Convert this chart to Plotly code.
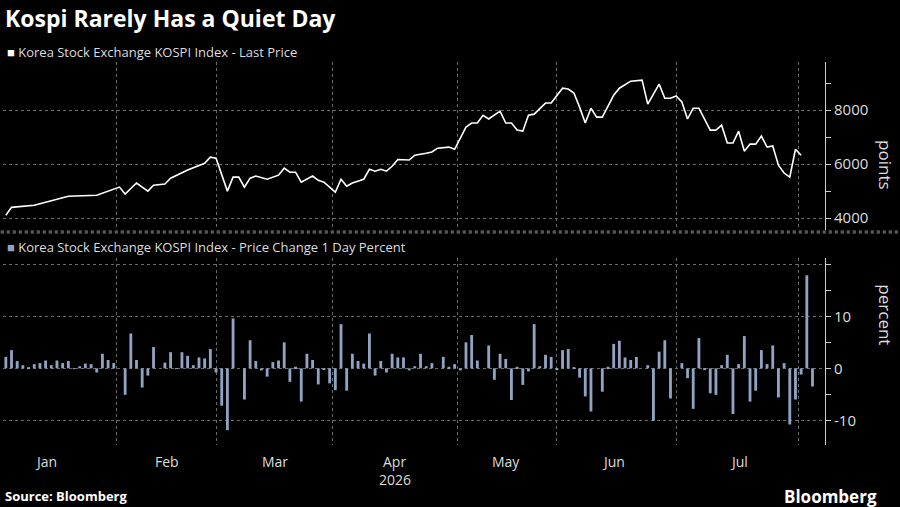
import plotly.graph_objects as go
from plotly.subplots import make_subplots

# trading-day index of price observations and the KOSPI level
price_day = [0, 1, 5, 7, 11, 16, 20, 21, 23, 25, 26, 28, 29, 32, 35, 36, 37, 39, 40, 41,
             42, 43, 44, 46, 48, 49, 50, 51, 52, 54, 55, 56, 58, 59, 60, 61, 63, 64, 65, 66,
             67, 68, 69, 71, 72, 74, 75, 76, 78, 79, 81, 82, 83, 84, 85, 87, 88, 89, 90, 91,
             92, 93, 95, 96, 98, 99, 100, 101, 102, 103, 104, 105, 107, 108, 110, 112, 113, 115, 116, 117,
             118, 119, 120, 121, 122, 124, 125, 126, 127, 128, 129, 130, 131, 132, 133, 134, 135, 136, 137, 138,
             139, 140]
price = [4110, 4400, 4480, 4590, 4810, 4850, 5150, 4890, 5300, 5000, 5220, 5260, 5480, 5780, 6030, 6260, 6220, 5000, 5520, 5520,
         5150, 5480, 5560, 5440, 5590, 5850, 5700, 5700, 5330, 5560, 5400, 5330, 4960, 5440, 5180, 5300, 5440, 5810, 5740, 5810,
         5740, 5920, 6170, 6150, 6330, 6400, 6450, 6590, 6630, 6550, 7370, 7520, 7520, 7810, 7670, 7960, 7520, 7520, 7260, 7220,
         7810, 7850, 8260, 8260, 8810, 8780, 8630, 8110, 7520, 8070, 7740, 7740, 8550, 8810, 9070, 9110, 8220, 8960, 8440, 8440,
         8520, 8300, 7670, 8070, 8070, 7260, 7260, 7440, 6780, 6780, 7220, 6480, 6740, 6740, 7040, 6630, 6670, 5960, 5670, 5520,
         6550, 6330]

# daily percent change, one per trading day
pct = [2.2, 3.5, 1.4, 0.6, 0.1, 0.8, 1.0, 1.5, 0.6, 1.5, 1.0, 1.4, -0.1, 0.4, 0.9, 0.8, -0.8, 2.8, 1.6, 1.0,
       0.0, -5.1, 6.7, 1.6, -3.7, -1.4, 4.1, 0.0, 1.1, 3.1, -0.1, 3.1, 2.4, 0.6, 2.1, 1.9, 3.7, -0.8, -7.2, -11.9,
       9.6, 0.0, -6.0, 5.4, 1.4, -0.4, -1.6, 1.2, 1.5, 5.0, -2.6, 0.3, -6.4, 2.8, 1.6, -3.1, -0.2, -2.9, -4.2, 8.5,
       -4.3, 2.8, 1.4, 0.9, 6.7, -1.4, 1.4, -0.8, 2.8, 2.1, 2.1, -0.4, 0.4, 2.8, 0.4, 1.0, 0.0, 2.2, 0.3, 0.8,
       -0.4, 5.0, 6.4, 1.5, 0.0, 4.4, -2.2, 2.8, 1.8, -6.1, 0.3, -3.2, -0.6, 8.5, 0.4, 2.6, 2.2, -0.3, 3.5, 3.7,
       0.2, -1.8, -5.4, -8.3, 0.0, -4.5, 0.3, 4.7, 5.3, 2.1, 1.6, 2.2, 0.0, 0.6, -10.1, 3.2, 5.4, -5.8, 0.0, 1.0,
       -1.9, -7.8, 5.8, -0.2, -4.8, -5.1, 0.6, 2.6, -8.8, 0.8, 6.2, -6.4, -4.3, 3.5, 0.8, 4.4, -5.6, 1.0, -10.8, -6.0,
       -1.2, 17.9, -3.5]

month_start = [19.5, 37, 57.5, 79.5, 97, 118, 139.5]
month_label_pos = [7, 28.3, 47.4, 68.5, 88, 107, 129]
month_labels = ["Jan", "Feb", "Mar", "Apr", "May", "Jun", "Jul"]

fig = make_subplots(rows=2, cols=1, shared_xaxes=True)
fig.add_trace(go.Scatter(x=price_day, y=price, mode="lines",
                         line=dict(color="white", width=1.6)), row=1, col=1)
fig.add_trace(go.Bar(x=list(range(len(pct))), y=pct, marker_color="#8fa3c2",
                     marker_line_width=0, width=0.5), row=2, col=1)

grid = dict(showgrid=True, gridcolor="#6a6a6a", griddash="dot", gridwidth=1, zeroline=False)
fig.update_xaxes(range=[-0.5, 144.2], tickvals=month_start, ticktext=[""] * 7,
                 ticks="", showticklabels=False, **grid)

axis_common = dict(side="right", showline=True, linecolor="#cccccc", ticks="outside",
                   ticklen=5, tickcolor="#cccccc", tickfont=dict(size=15, color="#dddddd"),
                   **grid)
fig.update_yaxes(range=[3556, 9780], tickvals=[4000, 6000, 8000], domain=[0.561, 1],
                 minor=dict(tickvals=[5000, 7000, 9000], ticks="outside", ticklen=5,
                            tickcolor="#cccccc", showgrid=False),
                 row=1, col=1, **axis_common)
fig.update_yaxes(range=[-14.75, 21.2], tickvals=[-10, 0, 10, 20], ticktext=["-10", "0", "10", ""],
                 domain=[0, 0.488],
                 minor=dict(tickvals=[-5, 5, 15], ticks="outside", ticklen=5,
                            tickcolor="#cccccc", showgrid=False),
                 row=2, col=1, **axis_common)

for lvl in [5, -5]:
    fig.add_hline(y=lvl, line=dict(color="#b0202a", width=1.5, dash="dot"), row=2, col=1)

annotations = [
    dict(text="<b>Kospi Rarely Has a Quiet Day</b>", x=0.0, y=1, xref="paper", yref="paper",
         xanchor="left", yanchor="middle", yshift=44, font=dict(size=23, color="white"), showarrow=False),
    dict(text="<span style='color:white'>■</span> Korea Stock Exchange KOSPI Index - Last Price",
         x=0.002, y=1, xref="paper", yref="paper", xanchor="left", yanchor="middle", yshift=10,
         font=dict(size=13, color="#dddddd"), showarrow=False),
    dict(text="<span style='color:#8fa3c2'>■</span> Korea Stock Exchange KOSPI Index - Price Change 1 Day Percent",
         x=0.002, y=0.517, xref="paper", yref="paper", xanchor="left", yanchor="middle",
         font=dict(size=13, color="#dddddd"), showarrow=False),
    dict(text="points", x=1.09, y=0.80, xref="paper", yref="paper", textangle=90,
         font=dict(size=17, color="#dddddd"), showarrow=False),
    dict(text="percent", x=1.09, y=0.255, xref="paper", yref="paper", textangle=90,
         font=dict(size=17, color="#dddddd"), showarrow=False),
    dict(text="2026", x=68.5, y=0, xref="x2", yref="paper", yanchor="middle", yshift=-34,
         font=dict(size=14, color="#dddddd"), showarrow=False),
    dict(text="<b>Source: Bloomberg</b>", x=0.0, y=0, xref="paper", yref="paper",
         xanchor="left", yanchor="middle", yshift=-51, font=dict(size=13, color="white"), showarrow=False),
    dict(text="<b>Bloomberg</b>", x=1.066, y=0, xref="paper", yref="paper",
         xanchor="right", yanchor="middle", yshift=-51, font=dict(size=17, color="white"), showarrow=False),
]
for pos, lab in zip(month_label_pos, month_labels):
    annotations.append(dict(text=lab, x=pos, y=0, xref="x2", yref="paper", yanchor="middle", yshift=-16,
                            font=dict(size=14, color="#dddddd"), showarrow=False))

fig.update_layout(
    width=900, height=507, template=None,
    paper_bgcolor="black", plot_bgcolor="black",
    font=dict(family="Open Sans, sans-serif"),
    margin=dict(l=3, r=75, t=62, b=62),
    showlegend=False, bargap=0.5,
    annotations=annotations,
    shapes=[dict(type="line", xref="paper", yref="paper", x0=-0.01, x1=1.1, y0=0.556, y1=0.556,
                 line=dict(color="#555555", width=3))],
)

fig.write_html("out.html", config={"displayModeBar": False},
               post_script="document.body.style.margin='0';")
